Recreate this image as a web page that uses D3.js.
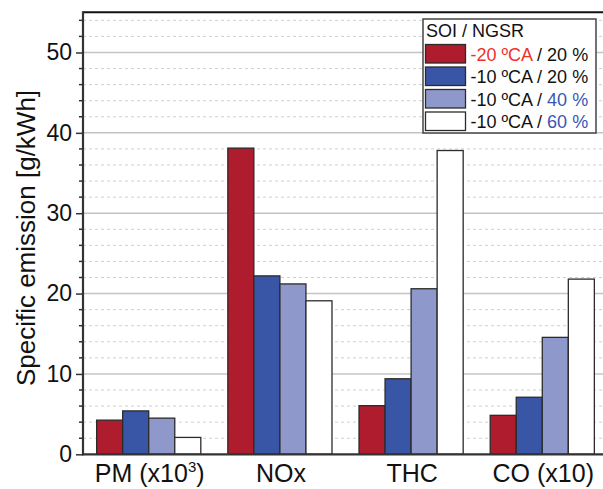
<!DOCTYPE html>
<html>
<head>
<meta charset="utf-8">
<script src="https://cdn.jsdelivr.net/npm/d3@7"></script>
<style>
  html, body { margin: 0; padding: 0; background: #fff; }
  svg { display: block; font-family: "Liberation Sans", Arial, sans-serif; }
</style>
</head>
<body>
<svg id="chart" width="603" height="489"></svg>
<script>
// categories on the x axis
const categories = ["PM", "NOx", "THC", "CO"];
const catLabels = [["PM (x10", "3", ")"], ["NOx"], ["THC"], ["CO (x10)"]];

// series: SOI / NGSR combinations
const seriesNames = ["-20 ºCA / 20 %", "-10 ºCA / 20 %", "-10 ºCA / 40 %", "-10 ºCA / 60 %"];
const soi20ngsr20 = [4.25, 38.1, 6.05, 4.85];
const soi10ngsr20 = [5.4, 22.2, 9.4, 7.1];
const soi10ngsr40 = [4.5, 21.2, 20.6, 14.55];
const soi10ngsr60 = [2.1, 19.1, 37.8, 21.8];
const seriesValues = [soi20ngsr20, soi10ngsr20, soi10ngsr40, soi10ngsr60];

const majorTicks = [0, 10, 20, 30, 40, 50];
const minorStep = 2;
const yMax = 55;

const colors = ["#ae1c2d", "#3955a5", "#8f98cb", "#ffffff"];

const svg = d3.select("#chart");
const plot = { left: 83, right: 608, top: 12.3, bottom: 454.3 };

const x0 = d3.scaleBand()
  .domain(categories)
  .range([plot.left, plot.right])
  .paddingInner(0.206)
  .paddingOuter(0.104);

const x1 = d3.scaleBand()
  .domain(d3.range(seriesNames.length))
  .range([0, x0.bandwidth()]);

const y = d3.scaleLinear().domain([0, yMax]).range([plot.bottom, plot.top]);

const minorTicks = d3.range(minorStep, yMax, minorStep).filter((v) => v % 10 !== 0);

// grid
const grid = svg.append("g");
grid.selectAll("line.minor")
  .data(minorTicks)
  .enter()
  .append("line")
  .attr("x1", plot.left)
  .attr("x2", plot.right)
  .attr("y1", (d) => y(d))
  .attr("y2", (d) => y(d))
  .attr("stroke", "#cfcfcf")
  .attr("stroke-width", 1)
  .attr("stroke-dasharray", "3,3");
grid.selectAll("line.major")
  .data(majorTicks.filter((d) => d > 0))
  .enter()
  .append("line")
  .attr("x1", plot.left)
  .attr("x2", plot.right)
  .attr("y1", (d) => y(d))
  .attr("y2", (d) => y(d))
  .attr("stroke", "#c4c4c4")
  .attr("stroke-width", 1.5);

// bars
const groups = svg.append("g")
  .selectAll("g")
  .data(categories)
  .enter()
  .append("g")
  .attr("transform", (c) => `translate(${x0(c)},0)`);

groups.selectAll("rect")
  .data((c, ci) => seriesValues.map((vals, si) => ({ si, v: vals[ci] })))
  .enter()
  .append("rect")
  .attr("x", (d) => x1(d.si))
  .attr("y", (d) => y(d.v))
  .attr("width", x1.bandwidth())
  .attr("height", (d) => y(0) - y(d.v))
  .attr("fill", (d) => colors[d.si])
  .attr("stroke", "#2b2b2b")
  .attr("stroke-width", 1.3);

// frame: top border
svg.append("line")
  .attr("x1", plot.left)
  .attr("x2", plot.right)
  .attr("y1", plot.top)
  .attr("y2", plot.top)
  .attr("stroke", "#111")
  .attr("stroke-width", 2);

// y axis
const yAxis = svg.append("g").attr("transform", `translate(${plot.left},0)`);
yAxis.call(
  d3.axisLeft(y).tickValues(majorTicks).tickSize(7).tickPadding(4).tickFormat(d3.format("d"))
);
yAxis.select(".domain").remove();
yAxis.selectAll(".tick line").attr("stroke", "#333").attr("stroke-width", 1.5);
yAxis.selectAll(".tick text")
  .attr("font-size", 23)
  .attr("fill", "#111")
  .attr("font-family", "'Liberation Sans', Arial, sans-serif");
yAxis.selectAll("line.minor")
  .data(minorTicks)
  .enter()
  .append("line")
  .attr("x1", -4)
  .attr("x2", 0)
  .attr("y1", (d) => y(d))
  .attr("y2", (d) => y(d))
  .attr("stroke", "#333")
  .attr("stroke-width", 1.5);
yAxis.append("line")
  .attr("x1", 0)
  .attr("x2", 0)
  .attr("y1", plot.top - 1)
  .attr("y2", plot.bottom + 1)
  .attr("stroke", "#333")
  .attr("stroke-width", 2.2);

// x axis
svg.append("line")
  .attr("x1", plot.left - 1)
  .attr("x2", plot.right)
  .attr("y1", plot.bottom)
  .attr("y2", plot.bottom)
  .attr("stroke", "#333")
  .attr("stroke-width", 2.2);

const xLabels = svg.append("g")
  .selectAll("text")
  .data(categories)
  .enter()
  .append("text")
  .attr("x", (c) => x0(c) + x0.bandwidth() / 2 + 1)
  .attr("y", 482)
  .attr("text-anchor", "middle")
  .attr("font-size", 25)
  .attr("fill", "#111");
xLabels.each(function (c, i) {
  const parts = catLabels[i];
  const t = d3.select(this);
  t.append("tspan").text(parts[0]);
  if (parts.length > 1) {
    t.append("tspan").attr("font-size", 15).attr("dy", -10).text(parts[1]);
    t.append("tspan").attr("dy", 10).text(parts[2]);
  }
});

// y axis title
svg.append("text")
  .attr("transform", "translate(35,238) rotate(-90)")
  .attr("text-anchor", "middle")
  .attr("font-size", 26)
  .attr("fill", "#111")
  .text("Specific emission [g/kWh]");

// legend
const legend = svg.append("g");
legend.append("rect")
  .attr("x", 423)
  .attr("y", 19)
  .attr("width", 173)
  .attr("height", 114)
  .attr("fill", "#fff")
  .attr("stroke", "#444")
  .attr("stroke-width", 1.5);
legend.append("text")
  .attr("x", 426)
  .attr("y", 37)
  .attr("font-size", 18)
  .attr("fill", "#111")
  .text("SOI / NGSR");

// colored fragments of each legend entry
const legendParts = [
  [["-20 ºCA", "#f0302a"], [" / 20 %", "#111"]],
  [["-10 ºCA / 20 %", "#111"]],
  [["-10 ºCA / ", "#111"], ["40 %", "#3a56b5"]],
  [["-10 ºCA / ", "#111"], ["60 %", "#3a56b5"]]
];

const rows = legend.selectAll("g.row")
  .data(seriesNames)
  .enter()
  .append("g")
  .attr("transform", (d, i) => `translate(0,${44.5 + i * 22.5})`);
rows.append("rect")
  .attr("x", 425.5)
  .attr("y", 0)
  .attr("width", 40)
  .attr("height", 18.5)
  .attr("fill", (d, i) => colors[i])
  .attr("stroke", "#2b2b2b")
  .attr("stroke-width", 1.3);
rows.append("text")
  .attr("x", 470.5)
  .attr("y", 16)
  .attr("font-size", 18)
  .each(function (d, i) {
    const t = d3.select(this);
    legendParts[i].forEach(([s, col]) => {
      t.append("tspan").attr("fill", col).text(s);
    });
  });
</script>
</body>
</html>
